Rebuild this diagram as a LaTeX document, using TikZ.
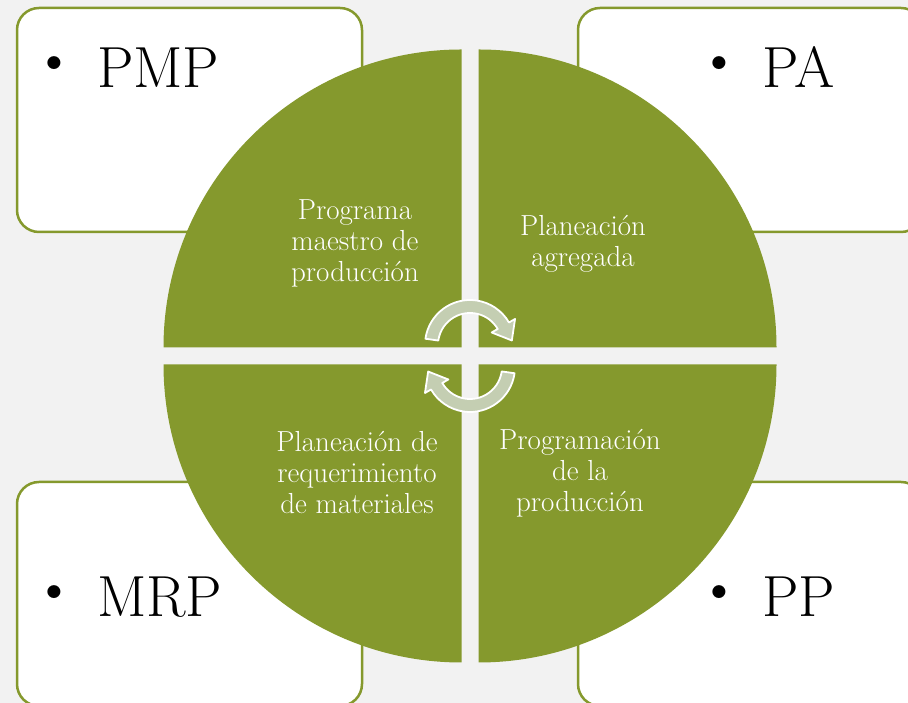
\documentclass[tikz,border=0pt]{standalone}
\usepackage{fontspec}
\setmainfont{Latin Modern Roman}
\usetikzlibrary{calc}
\definecolor{olive}{RGB}{133,153,45}
\definecolor{bgray}{RGB}{242,242,242}
\definecolor{sage}{RGB}{196,206,178}
\tikzset{
  box/.style={draw=olive, line width=2.5pt, fill=white, rounded corners=22pt},
  quad/.style={fill=olive, draw=none},
  qtext/.style={text=white, font=\fontsize{29}{31}\selectfont, align=center, inner sep=0pt},
  biglabel/.style={text=black, font=\fontsize{58}{60}\selectfont, inner sep=0pt, anchor=base west},
  cyclearrow/.style={fill=sage, draw=white, line width=1.8pt, line join=round}
}
\newcommand{\bul}{\llap{\raisebox{9pt}{\textbullet}\hspace{22pt}}}
\begin{document}
\begin{tikzpicture}[x=1pt,y=1pt]
\useasboundingbox (0,0) rectangle (908,703);
\clip (0,0) rectangle (908,703);
\fill[bgray] (0,0) rectangle (908,703);
% boxes
\draw[box] (17,471) rectangle (362,695);
\draw[box] (578,471) rectangle (923,695);
\draw[box] (17,-3) rectangle (362,221);
\draw[box] (578,-3) rectangle (923,221);
% labels
\node[biglabel] (pmp) at (97,615) {\bul PMP};
\node[biglabel] (pa) at (762,615) {\bul PA};
\node[biglabel] (mrp) at (97,86) {\bul MRP};
\node[biglabel] (pp) at (762,86) {\bul PP};
% quadrants
\coordinate (O) at (470,347);
\fill[quad] (461.5,355.5) -- ++(-298,0) arc[start angle=180, end angle=90, radius=298] -- cycle;
\fill[quad] (478.5,355.5) -- ++(0,298) arc[start angle=90, end angle=0, radius=298] -- cycle;
\fill[quad] (461.5,338.5) -- ++(0,-298) arc[start angle=270, end angle=180, radius=298] -- cycle;
\fill[quad] (478.5,338.5) -- ++(298,0) arc[start angle=0, end angle=-90, radius=298] -- cycle;
% quadrant texts
\node[qtext] (tl) at (355,460) {Programa\\maestro de\\producción};
\node[qtext] (tr) at (583,459.5) {Planeación\\agregada};
\node[qtext] (bl) at (357,230) {Planeación de\\requerimiento\\de materiales};
\node[qtext] (br) at (580,230) {Programación\\de la\\producción};
% cycle arrows
\coordinate (C1) at (470,358);
\coordinate (C2) at (470,336);
\draw[cyclearrow] ($(C1)+(172:45)$) arc[start angle=172, end angle=30, radius=45]
  -- ($(C1)+(30:52)$) -- ($(C1)+(30:38.5)+(-60:17)$) -- ($(C1)+(30:25)$) -- ($(C1)+(30:32)$)
  arc[start angle=30, end angle=172, radius=32] -- cycle;
\draw[cyclearrow] ($(C2)+(352:45)$) arc[start angle=352, end angle=210, radius=45]
  -- ($(C2)+(210:52)$) -- ($(C2)+(210:38.5)+(120:17)$) -- ($(C2)+(210:25)$) -- ($(C2)+(210:32)$)
  arc[start angle=210, end angle=352, radius=32] -- cycle;
\end{tikzpicture}
\end{document}
